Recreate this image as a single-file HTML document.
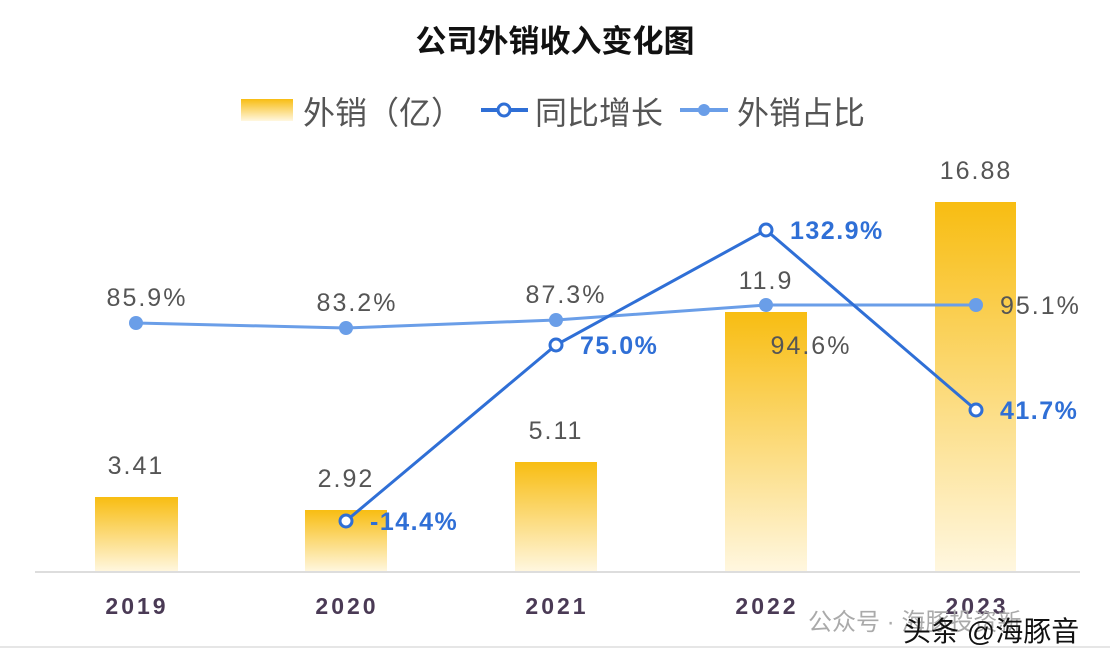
<!DOCTYPE html><html><head><meta charset="utf-8"><style>body{margin:0;background:#fff}svg{display:block}text{font-family:"Liberation Sans","Noto Sans CJK SC",sans-serif}</style></head><body>
<svg width="1110" height="664" viewBox="0 0 1110 664">
<defs><linearGradient id="g" x1="0" y1="0" x2="0" y2="1"><stop offset="0" stop-color="#f8bd12"/><stop offset="1" stop-color="#fff7e0"/></linearGradient></defs>
<rect x="0" y="0" width="1110" height="664" fill="#fff"/>
<line x1="0" y1="647" x2="1110" y2="647" stroke="#ccc"/>
<text x="555" y="52" text-anchor="middle" font-size="31" font-weight="bold" fill="#111">公司外销收入变化图</text>
<rect x="241" y="99" width="52" height="22" fill="url(#g)"/>
<text x="303" y="124" font-size="32" fill="#555">外销（亿）</text>
<line x1="481" y1="110" x2="528" y2="110" stroke="#2f6fd6" stroke-width="4"/><circle cx="504" cy="110" r="6" fill="#fff" stroke="#2f6fd6" stroke-width="3"/>
<text x="535" y="124" font-size="32" fill="#555">同比增长</text>
<line x1="680" y1="110" x2="728" y2="110" stroke="#6a9ee8" stroke-width="4"/><circle cx="704" cy="110" r="6" fill="#6a9ee8"/>
<text x="737" y="124" font-size="32" fill="#555">外销占比</text>
<g fill="url(#g)">
<rect x="95" y="497" width="83" height="75"/><rect x="305" y="510" width="82" height="62"/><rect x="515" y="462" width="82" height="110"/><rect x="725" y="312" width="82" height="260"/><rect x="935" y="202" width="81" height="370"/></g>
<line x1="35" y1="572" x2="1080" y2="572" stroke="#ddd" stroke-width="2"/>
<g font-size="25" fill="#555" text-anchor="middle" letter-spacing="2">
<text x="136" y="474">3.41</text><text x="346" y="487">2.92</text><text x="556" y="439">5.11</text><text x="766" y="289">11.9</text><text x="976" y="179">16.88</text>
<text x="147" y="306">85.9%</text><text x="357" y="311">83.2%</text><text x="566" y="303">87.3%</text><text x="811" y="354">94.6%</text></g>
<text x="1000" y="314" font-size="25" fill="#555" letter-spacing="2">95.1%</text>
<polyline points="136,323 346,328 556,320 766,305 976,305" fill="none" stroke="#6a9ee8" stroke-width="3"/>
<g fill="#6a9ee8"><circle cx="136" cy="323" r="7"/><circle cx="346" cy="328" r="7"/><circle cx="556" cy="320" r="7"/><circle cx="766" cy="305" r="7"/><circle cx="976" cy="305" r="7"/></g>
<polyline points="346,521 556,345 766,230 976,410" fill="none" stroke="#2f6fd6" stroke-width="3"/>
<g fill="#fff" stroke="#2f6fd6" stroke-width="3"><circle cx="346" cy="521" r="6"/><circle cx="556" cy="345" r="6"/><circle cx="766" cy="230" r="6"/><circle cx="976" cy="410" r="6"/></g>
<g font-size="25" fill="#2f6fd6" font-weight="bold" letter-spacing="1.5">
<text x="370" y="530">-14.4%</text><text x="580" y="354">75.0%</text><text x="790" y="239">132.9%</text><text x="1000" y="419">41.7%</text></g>
<g font-size="23" fill="#4a3a55" text-anchor="middle" font-weight="bold" letter-spacing="3">
<text x="137" y="614">2019</text><text x="347" y="614">2020</text><text x="557" y="614">2021</text><text x="767" y="614">2022</text><text x="977" y="614">2023</text></g>
<text x="808" y="630" font-size="24" fill="#aaa">公众号 · 海豚投资新</text>
<text x="903" y="641" font-size="28" fill="#111">头条 @海豚音</text>
</svg></body></html>
